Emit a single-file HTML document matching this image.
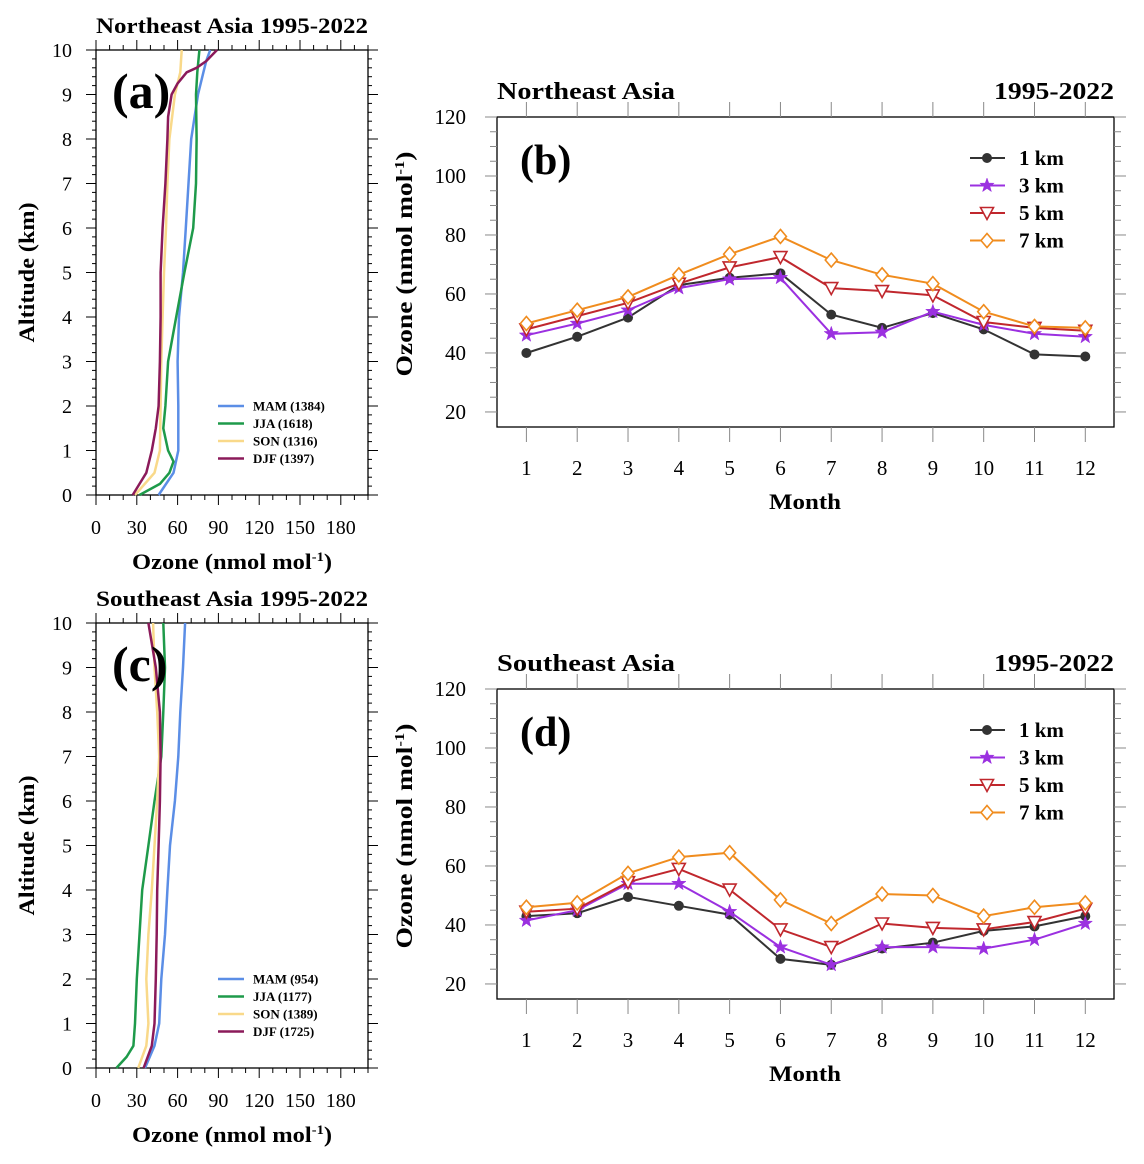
<!DOCTYPE html>
<html><head><meta charset="utf-8"><style>
body{margin:0;background:#fff;width:1144px;height:1164px;overflow:hidden}
svg{display:block;font-family:"Liberation Serif",serif}
</style></head><body>
<svg id="fig" width="1144" height="1164" viewBox="0 0 1144 1164" xmlns="http://www.w3.org/2000/svg"></svg>
<script>
// ---- profile data (altitude km, ozone nmol/mol) ----
const altNE_MAM=[0,0.5,1,2,3,4,5,6,7,8,9,9.5,9.75,10];
const valNE_MAM=[46,57,60.5,60.5,60,61,64,66,68,70,75,79,81,84];
const altNE_JJA=[0,0.25,0.5,0.75,1,1.5,2,3,4,5,6,7,8,9,9.5,10];
const valNE_JJA=[32,47,54,57,53,49.5,51,53,59,65,71.5,73.5,74,73.5,74.5,76];
const altNE_SON=[0,0.5,1,2,3,4,5,6,7,8,9,9.5,10];
const valNE_SON=[28.7,43,47,47.5,48,49,50,51.5,52.5,54,58,62,63];
const altNE_DJF=[0,0.25,0.5,1,1.5,2,3,4,5,6,7,8,8.5,9,9.25,9.5,9.6,9.75,10];
const valNE_DJF=[27,32,37,41,44,46,47,47.5,47.5,49,51,52.5,53,55.6,60,66.7,74,81,89];
const altSE_MAM=[0,0.5,1,2,3,4,5,6,7,8,9,10];
const valSE_MAM=[36,43,46.5,48,50.7,52.5,54.4,58,60.5,62,64,65.5];
const altSE_JJA=[0,0.25,0.5,1,2,3,4,5,6,7,8,9,10];
const valSE_JJA=[15,22.5,27.5,28.7,30,32,34,38.5,43,48,49.5,50.7,49.5];
const altSE_SON=[0,0.5,1,2,3,4,5,6,7,8,9,10];
const valSE_SON=[31,37,38.5,37,38.5,41,43,45,46.5,45,43,42];
const altSE_DJF=[0,0.5,1,2,3,4,5,6,7,8,9,10];
const valSE_DJF=[35,41,43,44,44.6,45,46,47,47.5,47,44,38.5];
const seasonNames=["MAM","JJA","SON","DJF"];
const countsNE=[1384,1618,1316,1397];
const countsSE=[954,1177,1389,1725];
const profTicksX=[0,30,60,90,120,150,180];
const profTicksY=[0,1,2,3,4,5,6,7,8,9,10];
// ---- monthly data ----
const months=[1,2,3,4,5,6,7,8,9,10,11,12];
const levels=["1 km","3 km","5 km","7 km"];
const ne1=[40,45.5,52,63,65.5,67,53,48.5,53.5,48,39.5,38.8];
const ne3=[46,50,54.5,62,65,65.5,46.5,47,54,49.5,46.5,45.5];
const ne5=[48,52.5,57,63.5,69,72.5,62,61,59.5,50.5,48.5,47.5];
const ne7=[50,54.5,59,66.5,73.5,79.5,71.5,66.5,63.5,54,49,48.5];
const se1=[43,44,49.5,46.5,43.5,28.5,26.5,32,34,38,39.5,43];
const se3=[41.5,45,54,54,44.5,32.5,26.5,32.5,32.5,32,35,40.5];
const se5=[44.5,45.5,54.5,59,52,38.5,32.5,40.5,39,38.5,41,45.5];
const se7=[46,47.5,57.5,63,64.5,48.5,40.5,50.5,50,43,46,47.5];
const monTicksY=[20,40,60,80,100,120];

const NS="http://www.w3.org/2000/svg";
const svg=document.getElementById('fig');
function mk(tag,attrs,parent,text){const e=document.createElementNS(NS,tag);for(const k in attrs)e.setAttribute(k,attrs[k]);if(text!==undefined)e.textContent=text;(parent||svg).appendChild(e);return e;}
const sCol=["#5b8ee6","#1e9a4a","#f9d98a","#8b1a5a"];
const lCol=["#333333","#9b30e0","#c0272d","#f08c1e"];
const fit={lengthAdjust:'spacingAndGlyphs'};

function profilePanel(name,title,letter,top,bottom,alts,vals,counts){
  const L=96,R=368,xmin=0,xmax=200;
  const X=v=>L+(v-xmin)/(xmax-xmin)*(R-L);
  const Y=a=>bottom-a/10*(bottom-top);
  const g=mk('g',{},svg);
  
  
  const t=mk('text',{x:232,y:top-17,'text-anchor':'middle','font-size':22,'font-weight':'bold',textLength:272,lengthAdjust:'spacingAndGlyphs'},g,title);
  
  const box=mk('rect',{x:L,y:top,width:R-L,height:bottom-top,fill:'none',stroke:'#000','stroke-width':1.3},g);
  
  for(let a=0;a<=10.001;a+=0.2){const y=Y(a);const maj=Math.abs(a-Math.round(a))<1e-6;const len=maj?10:4;
    mk('line',{x1:L-len,x2:L,y1:y,y2:y,stroke:'#000','stroke-width':1},g);
    mk('line',{x1:R,x2:R+len,y1:y,y2:y,stroke:'#000','stroke-width':1},g);}
  for(let v=0;v<=200;v+=10){const x=X(v);const maj=v%30===0;const len=maj?10:5;
    mk('line',{x1:x,x2:x,y1:bottom,y2:bottom+len,stroke:'#000','stroke-width':1},g);
    mk('line',{x1:x,x2:x,y1:top-len,y2:top,stroke:'#000','stroke-width':1},g);}
  profTicksY.forEach(a=>{const e=mk('text',{x:72,y:Y(a)+7,'text-anchor':'end','font-size':20},g,String(a));});
  profTicksX.forEach(v=>{const e=mk('text',{x:X(v),y:bottom+39,'text-anchor':'middle','font-size':20},g,String(v));});
  const xt=mk('text',{x:232,y:bottom+74,'text-anchor':'middle','font-size':22,'font-weight':'bold',textLength:200,lengthAdjust:'spacingAndGlyphs'},g);
  
  xt.appendChild(document.createTextNode('Ozone (nmol mol'));
  mk('tspan',{dy:-8,'font-size':13},xt,'-1');
  mk('tspan',{dy:8},xt,')');
  const cy=(top+bottom)/2;
  const yt=mk('text',{x:34,y:cy,'text-anchor':'middle','font-size':22,'font-weight':'bold',textLength:140,lengthAdjust:'spacingAndGlyphs',transform:`rotate(-90 34 ${cy})`},g,'Altitude (km)');
  
  for(let s=0;s<4;s++){
    const d=alts[s].map((a,i)=>(i?'L':'M')+X(vals[s][i]).toFixed(1)+','+Y(a).toFixed(1)).join('');
    const p=mk('path',{d:d,fill:'none',stroke:sCol[s],'stroke-width':2.5,'stroke-linejoin':'round'},g);
    
  }
  const lt=mk('text',{x:112,y:top+58,'font-size':50,'font-weight':'bold'},g,letter);
  
  for(let s=0;s<4;s++){const y=bottom-89+s*17.5;
    const le=mk('g',{},g);
    mk('line',{x1:218,x2:244,y1:y,y2:y,stroke:sCol[s],'stroke-width':2.5},le);
    mk('text',{x:253,y:y+4.5,'font-size':13,'font-weight':'bold'},le,`${seasonNames[s]} (${counts[s]})`);}
}

function marker(g,k,x,y,c){
  if(k===0) mk('circle',{cx:x,cy:y,r:5,fill:c},g);
  else if(k===1){let pts=[];for(let i=0;i<10;i++){const r=i%2?3:7.5;const a=-Math.PI/2+i*Math.PI/5;pts.push((x+r*Math.cos(a)).toFixed(1)+','+(y+r*Math.sin(a)).toFixed(1));}
    mk('polygon',{points:pts.join(' '),fill:c,stroke:c,'stroke-width':0.5},g);}
  else if(k===2) mk('polygon',{points:`${x-6.5},${y-5.5} ${x+6.5},${y-5.5} ${x},${y+6.5}`,fill:'#fff',stroke:c,'stroke-width':1.6},g);
  else mk('polygon',{points:`${x},${y-7} ${x+6},${y} ${x},${y+7} ${x-6},${y}`,fill:'#fff',stroke:c,'stroke-width':1.6},g);
}

function monthPanel(name,title,letter,top,series){
  const L=497,R=1114,bottom=top+310,ymin=14.9,ymax=120;
  const X=m=>526.4+(m-1)*(1085.3-526.4)/11;
  const Y=v=>bottom-(v-ymin)/(ymax-ymin)*(bottom-top);
  const g=mk('g',{},svg);
  
  const t1=mk('text',{x:L,y:top-18,'font-size':24,'font-weight':'bold',textLength:178,lengthAdjust:'spacingAndGlyphs'},g,title);
  
  const t2=mk('text',{x:R,y:top-18,'text-anchor':'end','font-size':24,'font-weight':'bold',textLength:120,lengthAdjust:'spacingAndGlyphs'},g,'1995-2022');
  
  const box=mk('rect',{x:L,y:top,width:R-L,height:bottom-top,fill:'none',stroke:'#000','stroke-width':1.3},g);
  
  for(let v=20;v<=120;v+=5){const y=Y(v);const len=v%20===0?12:7;
    mk('line',{x1:L-len,x2:L,y1:y,y2:y,stroke:'#888','stroke-width':1},g);
    mk('line',{x1:R,x2:R+len,y1:y,y2:y,stroke:'#888','stroke-width':1},g);}
  months.forEach(m=>{const x=X(m);
    mk('line',{x1:x,x2:x,y1:bottom,y2:bottom+15,stroke:'#888','stroke-width':1},g);
    mk('line',{x1:x,x2:x,y1:top-15,y2:top,stroke:'#888','stroke-width':1},g);
    const e=mk('text',{x:x,y:bottom+48,'text-anchor':'middle','font-size':21},g,String(m));
    });
  monTicksY.forEach(v=>{const e=mk('text',{x:466,y:Y(v)+7,'text-anchor':'end','font-size':21},g,String(v));
    });
  const xt=mk('text',{x:805,y:bottom+82,'text-anchor':'middle','font-size':22,'font-weight':'bold',textLength:72,lengthAdjust:'spacingAndGlyphs'},g,'Month');
  
  const cy=(top+bottom)/2-8;
  const yt=mk('text',{x:412,y:cy,'text-anchor':'middle','font-size':23,'font-weight':'bold',textLength:225,lengthAdjust:'spacingAndGlyphs',transform:`rotate(-90 412 ${cy})`},g);
  
  yt.appendChild(document.createTextNode('Ozone (nmol mol'));
  mk('tspan',{dy:-8,'font-size':14},yt,'-1');
  mk('tspan',{dy:8},yt,')');
  series.forEach((vals,k)=>{
    const sg=mk('g',{},g);
    const d=vals.map((v,i)=>(i?'L':'M')+X(months[i]).toFixed(1)+','+Y(v).toFixed(1)).join('');
    mk('path',{d:d,fill:'none',stroke:lCol[k],'stroke-width':2},sg);
    vals.forEach((v,i)=>marker(sg,k,X(months[i]),Y(v),lCol[k]));
  });
  const lt=mk('text',{x:520,y:top+57,'font-size':42,'font-weight':'bold'},g,letter);
  
  for(let k=0;k<4;k++){const y=top+41+k*27.5;
    const le=mk('g',{},g);
    mk('line',{x1:970,x2:1005,y1:y,y2:y,stroke:lCol[k],'stroke-width':2},le);
    marker(le,k,987,y,lCol[k]);
    mk('text',{x:1019,y:y+7,'font-size':21,'font-weight':'bold'},le,levels[k]);}
}

profilePanel('profile-panel-northeast','Northeast Asia  1995-2022','(a)',50,495,
  [altNE_MAM,altNE_JJA,altNE_SON,altNE_DJF],[valNE_MAM,valNE_JJA,valNE_SON,valNE_DJF],countsNE);
profilePanel('profile-panel-southeast','Southeast Asia  1995-2022','(c)',623,1068,
  [altSE_MAM,altSE_JJA,altSE_SON,altSE_DJF],[valSE_MAM,valSE_JJA,valSE_SON,valSE_DJF],countsSE);
monthPanel('monthly-panel-northeast','Northeast Asia','(b)',117,[ne1,ne3,ne5,ne7]);
monthPanel('monthly-panel-southeast','Southeast Asia','(d)',689,[se1,se3,se5,se7]);
</script>
</body></html>
